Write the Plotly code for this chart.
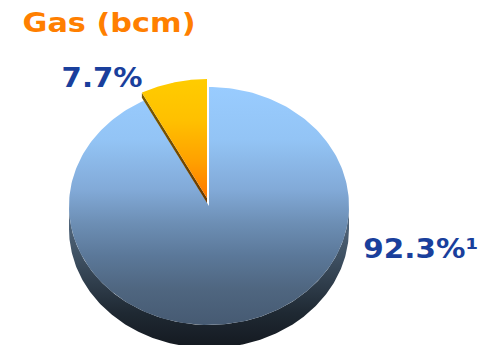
import numpy as np
import plotly.graph_objects as go

# Data
categories = ["Other", "Minority"]
shares = [92.3, 7.7]
share_labels = ["92.3%¹", "7.7%"]
title_text = "Gas (bcm)"

# Pie geometry (pixel-like axis units)
CX, CY, RX, RY, DEPTH = 209.0, 206.0, 140.0, 119.0, 23.0
OFFSET_X, OFFSET_Y = -2.0, -8.0
STRIP = 5.0

total = sum(shares)
minor_angle = 2 * np.pi * shares[1] / total


def arc(start, end, cx=CX, cy=CY, n=240):
    t = np.linspace(start, end, n)
    return cx + RX * np.sin(t), cy - RY * np.cos(t)


fig = go.Figure()


def add_fill(x, y, stops, start, stop):
    fig.add_trace(go.Scatter(
        x=list(x), y=list(y), mode="lines", line=dict(width=0),
        fill="toself", hoverinfo="skip", showlegend=False,
        fillgradient=dict(type="vertical", colorscale=stops, start=start, stop=stop),
    ))


# Extruded rim of the large slice (lower half only)
rx_top, ry_top = arc(np.pi / 2, 3 * np.pi / 2)
rim_x = np.concatenate([rx_top, rx_top[::-1]])
rim_y = np.concatenate([ry_top + DEPTH, ry_top[::-1]])
add_fill(rim_x, rim_y,
         [[0, "#5a7087"], [0.35, "#3f5163"], [0.75, "#1f2933"], [1, "#141920"]],
         CY, CY + RY + DEPTH)

# Large slice top face
ax, ay = arc(0, 2 * np.pi - minor_angle)
main_x = np.concatenate([[CX], ax, [CX]])
main_y = np.concatenate([[CY], ay, [CY]])
add_fill(main_x, main_y,
         [[0, "#99ccff"], [0.22, "#93c4f5"], [0.43, "#82aad8"], [0.57, "#6d8fb5"],
          [0.71, "#5b7899"], [0.85, "#4f6680"], [1, "#465a72"]],
         CY - RY, CY + RY)

# Small slice: cut edge strip, then its top face
sx, sy = arc(-minor_angle, 0, CX + OFFSET_X, CY + OFFSET_Y, n=80)
tip_x, tip_y = CX + OFFSET_X, CY + OFFSET_Y
strip_x = [sx[0], tip_x, tip_x, sx[0]]
strip_y = [sy[0], tip_y, tip_y + STRIP, sy[0] + STRIP]
add_fill(strip_x, strip_y, [[0, "#7a5c00"], [1, "#6b3a00"]], sy[0], tip_y + STRIP)

add_fill(np.concatenate([[tip_x], sx, [tip_x]]), np.concatenate([[tip_y], sy, [tip_y]]),
         [[0, "#ffcc00"], [0.35, "#ffc000"], [0.7, "#ffa000"], [1, "#ff7800"]],
         CY + OFFSET_Y - RY, tip_y)

fig.add_annotation(x=109, y=22, text=title_text, showarrow=False, xanchor="center", yanchor="middle",
                   font=dict(family="DejaVu Sans", size=27, color="#ff7f00", weight="bold"))
fig.add_annotation(x=102, y=78, text=share_labels[1], showarrow=False, xanchor="center", yanchor="middle",
                   font=dict(family="DejaVu Sans", size=26, color="#1a3f9c", weight="bold"))
fig.add_annotation(x=421, y=249, text=share_labels[0], showarrow=False, xanchor="center", yanchor="middle",
                   font=dict(family="DejaVu Sans", size=26, color="#1a3f9c", weight="bold"))

fig.update_xaxes(range=[0, 489], visible=False, fixedrange=True)
fig.update_yaxes(range=[345, 0], visible=False, fixedrange=True)
fig.update_layout(width=489, height=345, margin=dict(l=0, r=0, t=0, b=0),
                  paper_bgcolor="white", plot_bgcolor="white", showlegend=False)

# The reference's lettering is horizontally stretched; widen glyphs to the same run lengths.
stretch = """
document.body.style.margin='0';
var widths = {'Gas (bcm)':173, '7.7%%':81, '92.3%%¹':115};
document.querySelectorAll('text.annotation-text').forEach(function(t){
  var w = widths[t.textContent];
  if (w) { t.setAttribute('textLength', w); t.setAttribute('lengthAdjust', 'spacingAndGlyphs'); }
});
""".replace("%%", "%")
fig.write_html("out.html", config={"displayModeBar": False}, post_script=stretch)
